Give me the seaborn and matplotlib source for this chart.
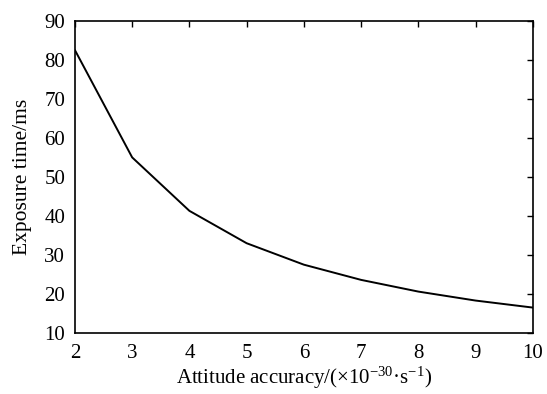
import matplotlib
matplotlib.use("Agg")
import matplotlib.pyplot as plt
import seaborn as sns
import pandas as pd

accuracy = [2, 3, 4, 5, 6, 7, 8, 9, 10]
exposure = [82.5, 55.0, 41.3, 33.0, 27.5, 23.6, 20.6, 18.3, 16.5]
xticks = [2, 3, 4, 5, 6, 7, 8, 9, 10]
yticks = [10, 20, 30, 40, 50, 60, 70, 80, 90]

sns.set_theme(style="white")
plt.rcParams['font.family'] = ['Liberation Serif', 'DejaVu Serif']
plt.rcParams['mathtext.fontset'] = 'custom'
plt.rcParams['mathtext.rm'] = 'Liberation Serif'
plt.rcParams['mathtext.it'] = 'Liberation Serif:italic'

df = pd.DataFrame({"x": accuracy, "y": exposure})
fig = plt.figure(figsize=(5.47, 3.94), dpi=100)
ax = fig.add_axes([0.137, 0.155, 0.837, 0.792])
sns.lineplot(data=df, x="x", y="y", ax=ax, color="black", linewidth=1.4)
ax.set_xlim(2, 10)
ax.set_ylim(10, 90)
ax.set_xticks(xticks)
ax.set_yticks(yticks)
ax.tick_params(direction="in", top=True, right=True, length=4, width=1,
               labelsize=15, colors="black")
ax.tick_params(axis="x", pad=8)
ax.tick_params(axis="y", pad=7)
for s in ax.spines.values():
    s.set_color("black")
    s.set_linewidth(1.2)
ax.set_xlabel("Attitude accuracy/(×10$^{-30}$·s$^{-1}$)", fontsize=15, color="black", labelpad=1)
ax.set_ylabel("Exposure time/ms", fontsize=15.5, color="black", labelpad=9)
fig.savefig("out.png", dpi=100, facecolor="white")
